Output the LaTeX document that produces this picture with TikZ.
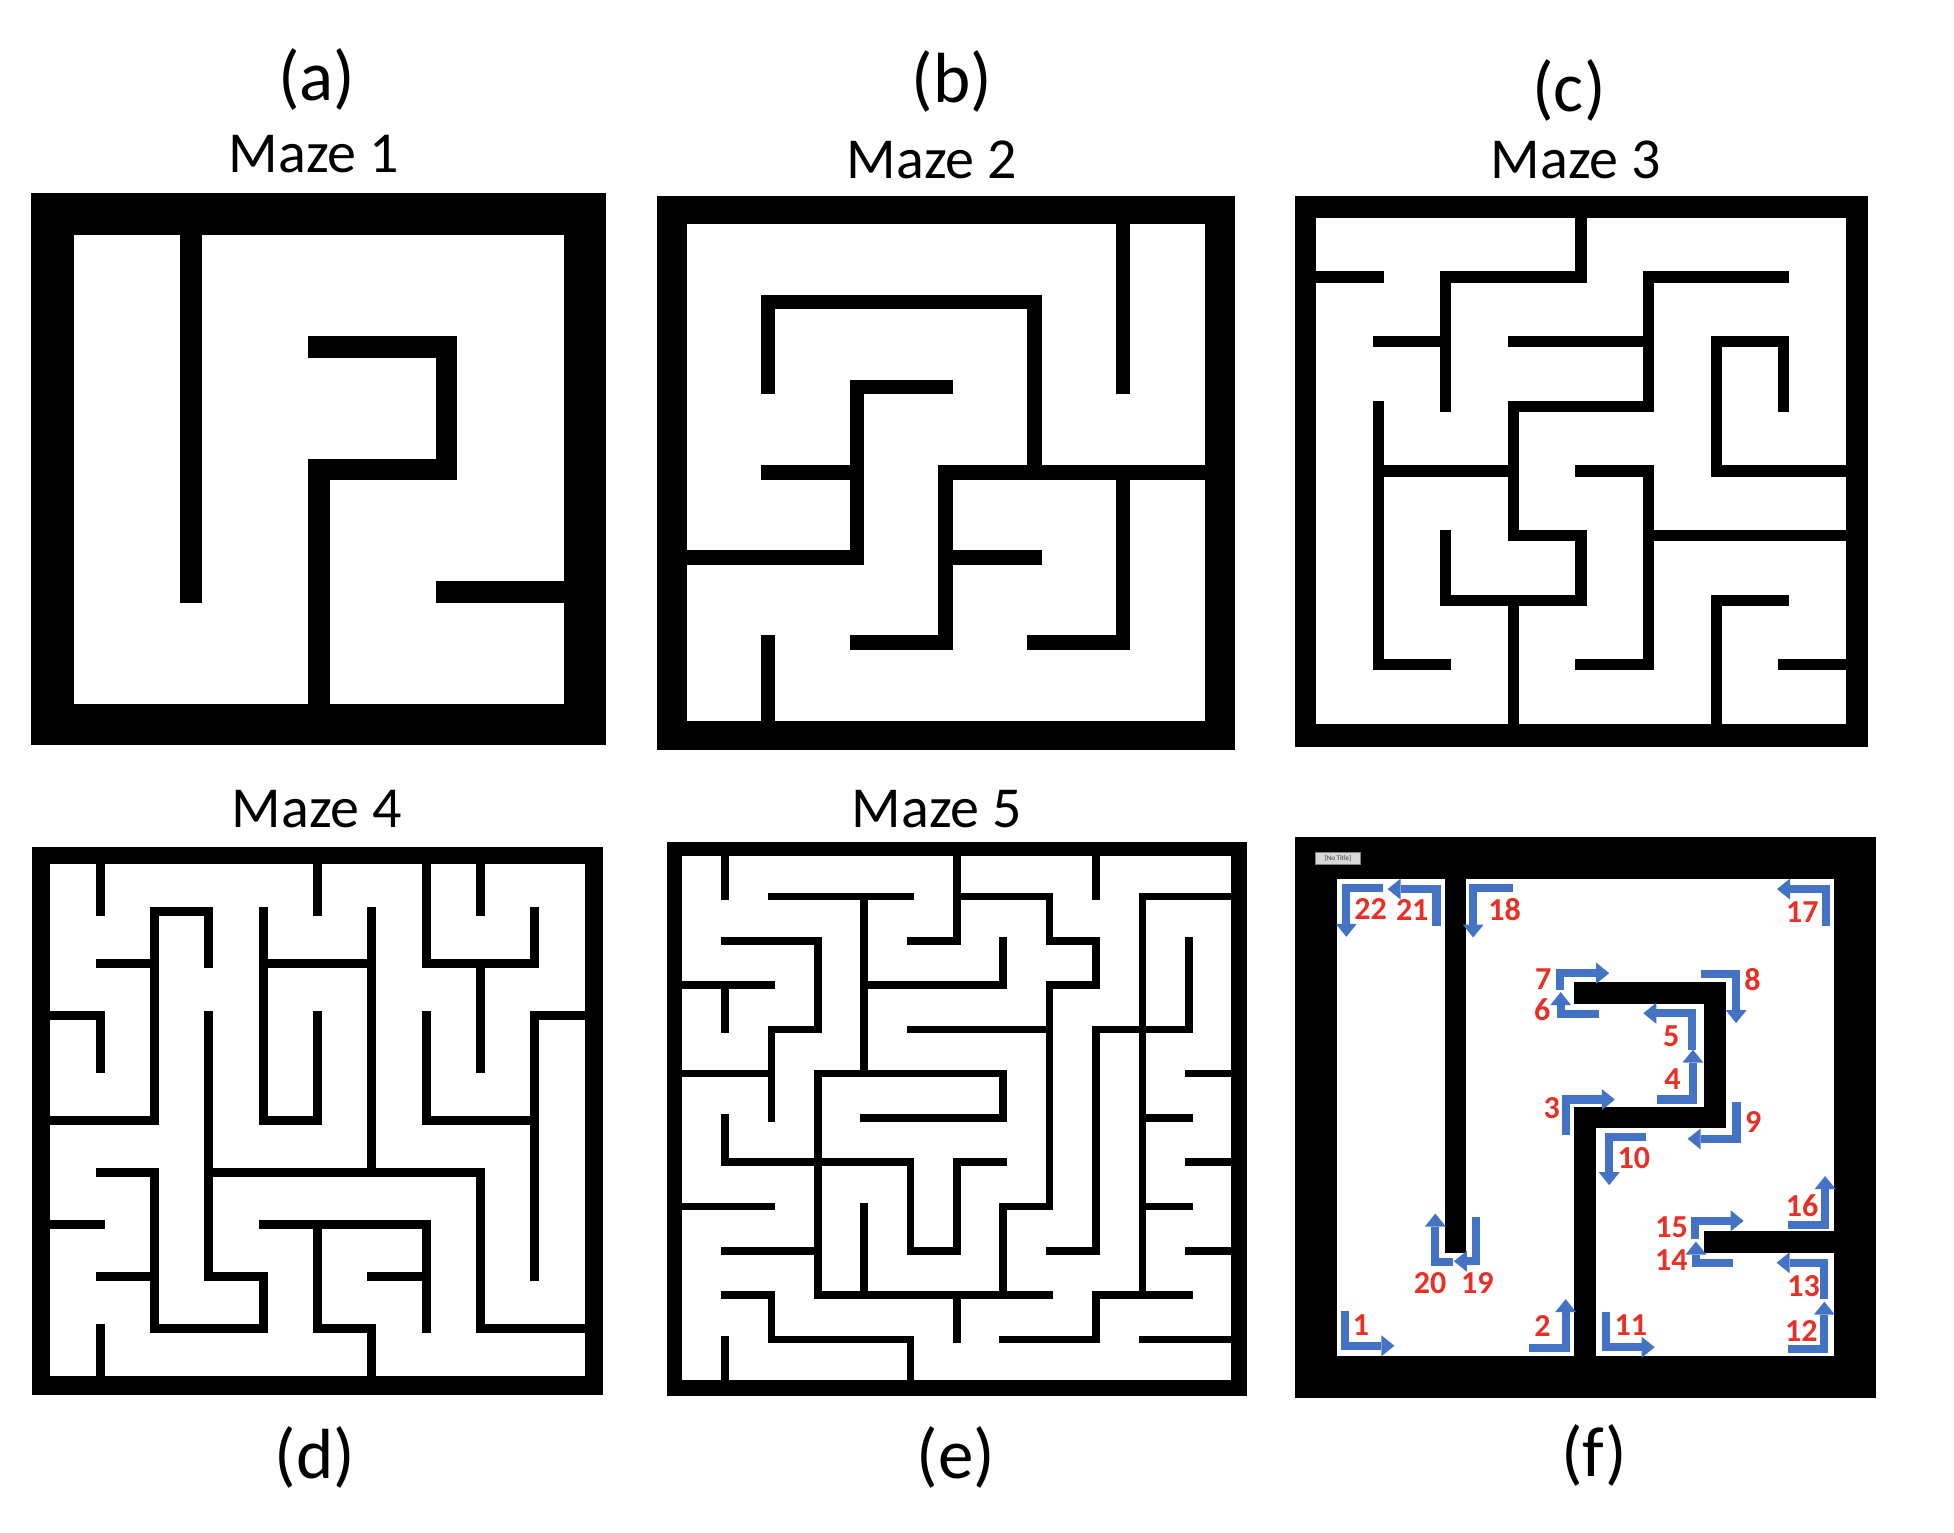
\documentclass[tikz,border=0pt]{standalone}
\usepackage{fontspec}
\setmainfont{Carlito}
\usetikzlibrary{arrows.meta}
\definecolor{arrowblue}{RGB}{68,114,196}
\definecolor{numred}{RGB}{232,48,38}
\begin{document}
\begin{tikzpicture}[x=1pt,y=-1pt,
  mz/.style={line cap=rect, line join=miter},
  barrow/.style={draw=arrowblue, line width=8.2pt, line join=miter, line cap=butt, -{Triangle[length=13pt,width=21pt,line width=0pt]}},
  num/.style={text=numred, font=\fontsize{32}{36}\selectfont\bfseries, inner sep=0pt},
  sublabel/.style={font=\fontsize{71}{84}\selectfont, anchor=base, inner sep=0pt},
  mtitle/.style={font=\fontsize{58}{68}\selectfont, anchor=base, inner sep=0pt}]
\useasboundingbox[fill=white] (0,0) rectangle (1954,1532);

% ---------- labels ----------
\node[sublabel] (la) at (317,100) {(a)};
\node[mtitle] (t1) at (314,172) {Maze 1};
\node[sublabel] (lb) at (952,102) {(b)};
\node[mtitle] (t2) at (932,178) {Maze 2};
\node[sublabel] (lc) at (1569,111) {(c)};
\node[mtitle] (t3) at (1576,178) {Maze 3};
\node[mtitle] (t4) at (317,827) {Maze 4};
\node[mtitle] (t5) at (937,827) {Maze 5};
\node[sublabel] (ld) at (315,1478) {(d)};
\node[sublabel] (le) at (956,1478) {(e)};
\node[sublabel] (lf) at (1594,1476) {(f)};

% ---------- Maze 1 (a) ----------
\fill[black] (31.2,193.2) rectangle (605.6,745.2);
\fill[white] (73.8,235.3) rectangle (563.8,703.9);
\begin{scope}[shift={(63pt,-224.5pt)}, x=127.9pt, y=-122.5pt, mz, line width=21.5pt]
  \draw (1,0)--(1,3);
  \draw (2,1)--(3,1)--(3,2)--(2,2)--(2,4);
  \draw (3,3)--(4,3);
\end{scope}

% ---------- Maze 2 (b) ----------
\fill[black] (656.7,195.6) rectangle (1235,750.2);
\fill[white] (686.7,224.2) rectangle (1204.6,720.6);
\begin{scope}[shift={(679.4pt,-216.9pt)}, x=88.75pt, y=-85.15pt, mz, line width=14.5pt]
  \draw (1,2)--(1,1)--(4,1)--(4,3);
  \draw (5,0)--(5,2);
  \draw (3,3)--(6,3);
  \draw (3,3)--(3,5)--(2,5);
  \draw (3,2)--(2,2)--(2,4)--(0,4);
  \draw (1,3)--(2,3);
  \draw (3,4)--(4,4);
  \draw (5,3)--(5,5)--(4,5);
  \draw (1,5)--(1,6);
\end{scope}

% ---------- Maze 3 (c) ----------
\fill[black] (1294.8,195.6) rectangle (1868,746.5);
\fill[white] (1316.3,218.1) rectangle (1845.8,723.8);
\begin{scope}[shift={(1310.6pt,-212.4pt)}, x=67.6pt, y=-64.63pt, mz, line width=11.3pt]
  \draw (0,1)--(1,1);
  \draw (4,0)--(4,1)--(2,1)--(2,3);
  \draw (1,2)--(2,2);
  \draw (7,1)--(5,1)--(5,3)--(3,3)--(3,5)--(4,5)--(4,6)--(2,6)--(2,5);
  \draw (3,2)--(5,2);
  \draw (7,3)--(7,2)--(6,2)--(6,4)--(8,4);
  \draw (1,3)--(1,7)--(2,7);
  \draw (1,4)--(3,4);
  \draw (4,4)--(5,4)--(5,7)--(4,7);
  \draw (5,5)--(8,5);
  \draw (3,6)--(3,8);
  \draw (7,6)--(6,6)--(6,8);
  \draw (7,7)--(8,7);
\end{scope}

% ---------- Maze 4 (d) ----------
\fill[black] (32.4,847.4) rectangle (603.2,1394.5);
\fill[white] (50.2,864.2) rectangle (584.6,1376.1);
\begin{scope}[shift={(45.7pt,-859.7pt)}, x=54.34pt, y=-52.09pt, mz, line width=9pt]
  \draw (1,0)--(1,1);
  \draw (5,0)--(5,1);
  \draw (8,0)--(8,1);
  \draw (7,0)--(7,2)--(9,2)--(9,1);
  \draw (7,3)--(7,5)--(9,5);
  \draw (10,3)--(9,3)--(9,8);
  \draw (8,2)--(8,4);
  \draw (1,2)--(2,2);
  \draw (3,2)--(3,1)--(2,1)--(2,5)--(0,5);
  \draw (0,3)--(1,3)--(1,4);
  \draw (3,3)--(3,8)--(4,8)--(4,9)--(2,9)--(2,6)--(1,6);
  \draw (3,6)--(8,6)--(8,9)--(10,9);
  \draw (6,1)--(6,6);
  \draw (5,3)--(5,5)--(4,5)--(4,1);
  \draw (4,2)--(6,2);
  \draw (0,7)--(1,7);
  \draw (1,8)--(2,8);
  \draw (1,9)--(1,10);
  \draw (4,7)--(7,7)--(7,9);
  \draw (5,7)--(5,9)--(6,9)--(6,10);
  \draw (6,8)--(7,8);
\end{scope}

% ---------- Maze 5 (e) ----------
\fill[black] (666.7,842.4) rectangle (1247.4,1395.7);
\fill[white] (682.4,855.9) rectangle (1231.3,1380);
\begin{scope}[shift={(678.6pt,-852.1pt)}, x=46.38pt, y=-44.31pt, mz, line width=7.6pt]
  \draw (1,0)--(1,1);
  \draw (2,1)--(5,1);
  \draw (4,1)--(4,5);
  \draw (6,0)--(6,2)--(5,2);
  \draw (6,1)--(8,1)--(8,2)--(9,2)--(9,3)--(8,3)--(8,8)--(7,8)--(7,10);
  \draw (9,0)--(9,1);
  \draw (12,1)--(10,1)--(10,10);
  \draw (1,2)--(3,2)--(3,4)--(2,4)--(2,6);
  \draw (0,3)--(2,3);
  \draw (1,3)--(1,4);
  \draw (0,5)--(2,5);
  \draw (7,2)--(7,3)--(4,3);
  \draw (5,4)--(8,4);
  \draw (11,2)--(11,4)--(9,4)--(9,9)--(8,9);
  \draw (4,6)--(7,6)--(7,5)--(3,5)--(3,10)--(8,10);
  \draw (1,6)--(1,7)--(5,7)--(5,9)--(6,9)--(6,7)--(7,7);
  \draw (0,8)--(2,8);
  \draw (4,8)--(4,10);
  \draw (1,9)--(3,9);
  \draw (1,10)--(2,10)--(2,11)--(5,11)--(5,12);
  \draw (6,10)--(6,11);
  \draw (1,11)--(1,12);
  \draw (7,11)--(9,11)--(9,10)--(11,10);
  \draw (10,11)--(12,11);
  \draw (11,5)--(12,5);
  \draw (10,6)--(11,6);
  \draw (11,7)--(12,7);
  \draw (10,8)--(11,8);
  \draw (11,9)--(12,9);
\end{scope}

% ---------- Maze 1 with path (f) ----------
\fill[black] (1294.8,837.4) rectangle (1875.5,1398.2);
\fill[white] (1336.5,879.2) rectangle (1833.6,1355.7);
\begin{scope}[shift={(1325.7pt,-868.4pt)}, x=129.68pt, y=-124.5pt, mz, line width=21.6pt]
  \draw (1,0)--(1,3);
  \draw (2,1)--(3,1)--(3,2)--(2,2)--(2,4);
  \draw (3,3)--(4,3);
\end{scope}
\node[draw=gray, fill={rgb,255:red,215;green,215;blue,215}, line width=0.8pt, minimum width=45pt, minimum height=12pt, inner sep=0pt, font=\fontsize{7}{8}\selectfont, text={rgb,255:red,60;green,60;blue,60}] (nt) at (1338,858.7) {[No Title]};

\begin{scope}[shift={(1289.1pt,-831.9pt)}, x=0.3788pt, y=-0.36416pt]
  \draw[barrow] (148,1315) -- (148,1411) -- (278,1411);
  \draw[barrow] (632,1417) -- (730,1417) -- (730,1283);
  \draw[barrow] (731,832) -- (731,735) -- (860,735);
  \draw[barrow] (970,735) -- (1066,735) -- (1066,598);
  \draw[barrow] (1064,598) -- (1064,498) -- (935,498);
  \draw[barrow] (818,501) -- (717,501) -- (717,440);
  \draw[barrow] (715,435) -- (715,388) -- (845,388);
  \draw[barrow] (1087,390) -- (1180,390) -- (1180,525);
  \draw[barrow] (1181,742) -- (1181,843) -- (1052,843);
  \draw[barrow] (941,837) -- (845,837) -- (845,970);
  \draw[barrow] (836,1318) -- (836,1415) -- (965,1415);
  \draw[barrow] (1318,1420) -- (1413,1420) -- (1413,1290);
  \draw[barrow] (1413,1282) -- (1413,1183) -- (1287,1183);
  \draw[barrow] (1173,1184) -- (1074,1184) -- (1074,1125);
  \draw[barrow] (1072,1118) -- (1072,1068) -- (1200,1068);
  \draw[barrow] (1318,1080) -- (1415,1080) -- (1415,945);
  \draw[barrow] (1417,257) -- (1417,157) -- (1288,157);
  \draw[barrow] (591,155) -- (486,155) -- (486,290);
  \draw[barrow] (493,1058) -- (493,1179) -- (435,1179);
  \draw[barrow] (432,1182) -- (386,1182) -- (386,1048);
  \draw[barrow] (389,257) -- (389,157) -- (260,157);
  \draw[barrow] (248,155) -- (151,155) -- (151,288);

  \node[num] (n1) at (190,1355) {1};
  \node[num] (n2) at (669,1356) {2};
  \node[num] (n3) at (693,758) {3};
  \node[num] (n4) at (1012,678) {4};
  \node[num] (n5) at (1009,562) {5};
  \node[num] (n6) at (668,489) {6};
  \node[num] (n7) at (671,403) {7};
  \node[num] (n8) at (1223,405) {8};
  \node[num] (n9) at (1225,797) {9};
  \node[num] (n10) at (910,897) {10};
  \node[num] (n11) at (902,1355) {11};
  \node[num] (n12) at (1352,1371) {12};
  \node[num] (n13) at (1358,1246) {13};
  \node[num] (n14) at (1009,1177) {14};
  \node[num] (n15) at (1010,1085) {15};
  \node[num] (n16) at (1354,1027) {16};
  \node[num] (n17) at (1355,219) {17};
  \node[num] (n18) at (569,213) {18};
  \node[num] (n19) at (497,1240) {19};
  \node[num] (n20) at (372,1240) {20};
  \node[num] (n21) at (325,215) {21};
  \node[num] (n22) at (215,213) {22};
\end{scope}
\end{tikzpicture}
\end{document}
